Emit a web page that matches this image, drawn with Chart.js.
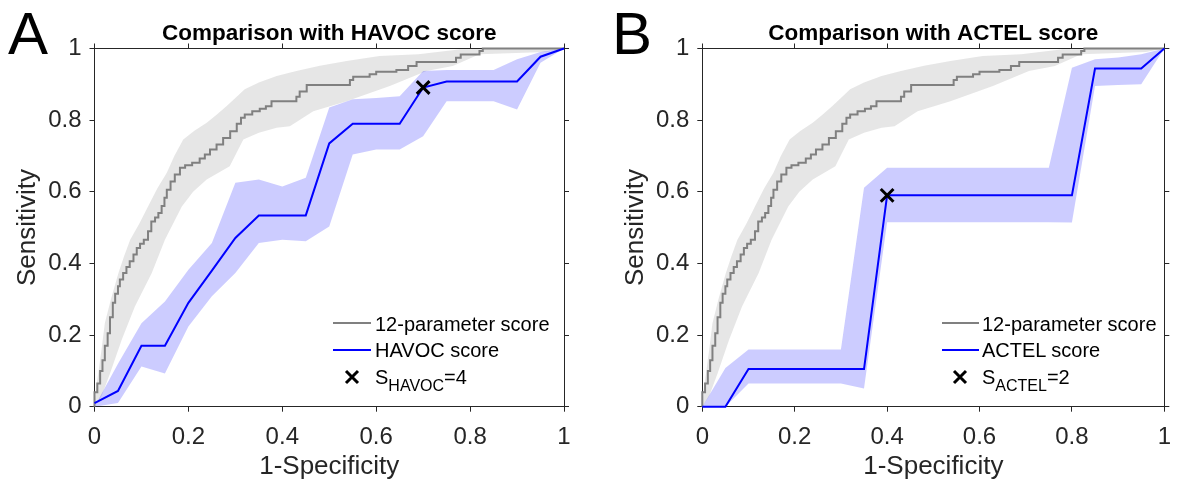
<!DOCTYPE html>
<html><head><meta charset="utf-8">
<script src="https://cdn.jsdelivr.net/npm/chart.js@4.4.1/dist/chart.umd.min.js"></script>
<style>
html,body{margin:0;padding:0;background:#fff;overflow:hidden}
body{width:1182px;height:489px;position:relative;font-family:"Liberation Sans",Arial,sans-serif}
canvas{position:absolute;top:0}
#cA{left:0}
#cB{left:600px}
.lbl{position:absolute;font-size:60px;line-height:60px;color:#000}
.lg{position:absolute;font-size:20px;line-height:20px;color:#000;white-space:nowrap}
.ln{position:absolute;height:2px}
.sub{font-size:16px;position:relative;top:7px}
.xm{position:absolute;width:16px;height:16px}
</style></head><body>
<canvas id="cA" width="600" height="489"></canvas>
<canvas id="cB" width="582" height="489"></canvas>
<div class="lbl" style="left:8px;top:4px">A</div>
<div class="lbl" style="left:612px;top:4px">B</div>

<div class="ln" style="left:333px;top:322px;width:38px;background:#808080"></div>
<div class="lg" style="left:375px;top:314px">12-parameter score</div>
<div class="ln" style="left:333px;top:349px;width:38px;background:#0000ff"></div>
<div class="lg" style="left:375px;top:340px">HAVOC score</div>
<svg class="xm" style="left:344px;top:369px" viewBox="0 0 16 16"><path d="M2 2L14 14M14 2L2 14" stroke="#000" stroke-width="3"/></svg>
<div class="lg" style="left:375px;top:367px">S<span class="sub">HAVOC</span>=4</div>

<div class="ln" style="left:942px;top:322px;width:37px;background:#808080"></div>
<div class="lg" style="left:982px;top:314px">12-parameter score</div>
<div class="ln" style="left:942px;top:349px;width:37px;background:#0000ff"></div>
<div class="lg" style="left:982px;top:340px">ACTEL score</div>
<svg class="xm" style="left:952px;top:369px" viewBox="0 0 16 16"><path d="M2 2L14 14M14 2L2 14" stroke="#000" stroke-width="3"/></svg>
<div class="lg" style="left:982px;top:367px">S<span class="sub">ACTEL</span>=2</div>

<script>
// ---- data ----
const tickValues = [0, 0.2, 0.4, 0.6, 0.8, 1];
const tickLabels = ['0', '0.2', '0.4', '0.6', '0.8', '1'];

// 12-parameter score ROC (staircase corners)
const paramFPR = [0,0.006,0.012,0.017,0.022,0.028,0.033,0.039,0.044,0.05,0.054,0.061,0.068,0.075,0.083,0.09,0.097,0.105,0.114,0.121,0.129,0.136,0.143,0.149,0.154,0.162,0.171,0.182,0.193,0.208,0.224,0.235,0.246,0.26,0.274,0.289,0.303,0.312,0.32,0.336,0.352,0.365,0.377,0.391,0.43,0.437,0.452,0.469,0.544,0.551,0.586,0.6,0.643,0.668,0.686,0.77,0.78,0.82,0.827,1];
const paramTPR = [0,0.04,0.065,0.1,0.13,0.17,0.205,0.25,0.29,0.315,0.336,0.355,0.373,0.39,0.406,0.425,0.443,0.455,0.466,0.49,0.517,0.528,0.541,0.56,0.583,0.606,0.629,0.648,0.667,0.674,0.681,0.693,0.704,0.718,0.732,0.75,0.769,0.79,0.807,0.816,0.825,0.832,0.839,0.853,0.853,0.865,0.88,0.898,0.898,0.912,0.921,0.928,0.935,0.94,0.951,0.962,0.974,0.983,0.993,1];
// 12-parameter score confidence band
const paramHiFPR = [0,0.003,0.008,0.015,0.022,0.035,0.051,0.063,0.076,0.095,0.114,0.134,0.154,0.17,0.189,0.212,0.239,0.26,0.281,0.3,0.32,0.35,0.388,0.43,0.48,0.537,0.607,0.69,0.78,1];
const paramHiTPR = [0,0.05,0.093,0.16,0.233,0.3,0.373,0.42,0.466,0.51,0.559,0.61,0.653,0.7,0.746,0.77,0.793,0.815,0.839,0.862,0.886,0.905,0.923,0.937,0.952,0.965,0.979,0.984,0.998,1];
const paramLoFPR = [0,0.015,0.033,0.058,0.086,0.122,0.15,0.186,0.21,0.239,0.288,0.317,0.35,0.388,0.416,0.466,0.537,0.629,0.707,0.763,0.82,0.96,1];
const paramLoTPR = [0,0.03,0.093,0.187,0.28,0.373,0.466,0.559,0.6,0.634,0.671,0.746,0.765,0.779,0.783,0.825,0.853,0.895,0.937,0.951,0.984,0.99,1];

// comparison scores on a common FPR grid
const scoreFPR = [0,0.05,0.1,0.15,0.2,0.25,0.3,0.35,0.4,0.45,0.5,0.55,0.6,0.65,0.7,0.75,0.8,0.85,0.9,0.95,1];
const havocTPR = [0.01,0.044,0.17,0.17,0.29,0.38,0.471,0.534,0.534,0.534,0.735,0.79,0.79,0.79,0.891,0.908,0.908,0.908,0.908,0.977,1];
const havocHi  = [0,0.12,0.233,0.294,0.382,0.457,0.625,0.634,0.615,0.639,0.835,0.858,0.862,0.867,0.937,0.94,0.94,0.94,0.97,0.99,1];
const havocLo  = [0,0.01,0.112,0.093,0.224,0.308,0.373,0.457,0.466,0.462,0.503,0.704,0.718,0.718,0.755,0.853,0.853,0.853,0.83,0.96,1];
const actelTPR = [0,0,0.105,0.105,0.105,0.105,0.105,0.105,0.59,0.59,0.59,0.59,0.59,0.59,0.59,0.59,0.59,0.944,0.944,0.944,1];
const actelHi  = [0,0.108,0.16,0.16,0.16,0.16,0.16,0.611,0.667,0.667,0.667,0.667,0.667,0.667,0.667,0.667,0.946,0.97,0.975,0.984,1];
const actelLo  = [0,0,0.065,0.065,0.065,0.065,0.065,0.051,0.515,0.515,0.515,0.515,0.515,0.515,0.515,0.515,0.514,0.895,0.898,0.9,1];

// cut-off points
const havocCutFPR = [0.7], havocCutTPR = [0.891];
const actelCutFPR = [0.4], actelCutTPR = [0.59];

// ---- chart ----
Chart.defaults.font.family = '"Liberation Sans", Arial, sans-serif';
const pts = (xs, ys) => xs.map((x, i) => ({x: x, y: ys[i]}));
const AX = '#262626';

function axis(pos, opts) {
  const horiz = pos === 'top' || pos === 'bottom';
  const a = {
    type: 'linear', position: pos, min: 0, max: 1,
    afterBuildTicks: s => { s.ticks = tickValues.map(v => ({value: v})); },
    grid: {drawOnChartArea: false, drawTicks: true, tickLength: 5, color: AX, lineWidth: 1},
    border: {display: true, color: AX, width: 1},
    ticks: {display: false}
  };
  return Object.assign(a, opts);
}

function makeChart(id, c) {
  new Chart(document.getElementById(id), {
    type: 'line',
    data: {datasets: [
      {label: 'band12hi', data: pts(paramHiFPR, paramHiTPR), borderColor: 'rgba(0,0,0,0)', borderWidth: 0, pointRadius: 0, backgroundColor: 'rgba(128,128,128,0.2)', fill: '+1', order: 6},
      {label: 'band12lo', data: pts(paramLoFPR, paramLoTPR), borderColor: 'rgba(0,0,0,0)', borderWidth: 0, pointRadius: 0, fill: false, order: 6},
      {label: 'bandHi', data: pts(scoreFPR, c.hi), borderColor: 'rgba(0,0,0,0)', borderWidth: 0, pointRadius: 0, backgroundColor: 'rgba(0,0,255,0.2)', fill: '+1', order: 5},
      {label: 'bandLo', data: pts(scoreFPR, c.lo), borderColor: 'rgba(0,0,0,0)', borderWidth: 0, pointRadius: 0, fill: false, order: 5},
      {label: '12-parameter score', data: pts(paramFPR, paramTPR), borderColor: '#808080', borderWidth: 2, pointRadius: 0, stepped: 'after', fill: false, order: 3, clip: false},
      {label: c.name, data: pts(scoreFPR, c.tpr), borderColor: '#0000ff', borderWidth: 2, pointRadius: 0, fill: false, order: 2, clip: false},
      {label: c.cutName, data: pts(c.cutX, c.cutY), showLine: false, pointStyle: 'crossRot', pointRadius: 9, pointBorderWidth: 3, borderColor: '#000', backgroundColor: '#000', order: 1, clip: false}
    ]},
    options: {
      responsive: false, animation: false, devicePixelRatio: 1,
      layout: {padding: {left: 0, right: c.padR, top: 0, bottom: 0}},
      plugins: {
        legend: {display: false}, tooltip: {enabled: false},
        title: {display: true, text: c.title, fullSize: false, color: '#000',
          font: {size: 22.5, weight: 'bold', lineHeight: 1}, padding: {top: 23, bottom: 3}}
      },
      scales: {
        x: axis('bottom', {
          ticks: {display: true, callback: (v, i) => tickLabels[i], font: {size: 24}, color: AX, padding: 11, maxRotation: 0, autoSkip: false},
          title: {display: true, text: '1-Specificity', color: AX, font: {size: 26}, padding: {top: 0, bottom: 6.4}},
          afterFit: s => { s.height = 82.3; }
        }),
        x2: axis('top', {afterFit: s => { s.height = 0; }}),
        y: axis('left', {
          ticks: {display: true, callback: (v, i) => tickLabels[i], font: {size: 24}, color: AX, padding: 8, autoSkip: false},
          title: {display: true, text: 'Sensitivity', color: AX, font: {size: 26}, padding: {top: c.yw - 66.5 - 15.6, bottom: 0}},
          afterFit: s => { s.width = c.yw; }
        }),
        y2: axis('right', {afterFit: s => { s.width = 0; }})
      }
    }
  });
}

makeChart('cA', {title: 'Comparison with HAVOC score', name: 'HAVOC score', cutName: 'S_HAVOC=4',
  tpr: havocTPR, hi: havocHi, lo: havocLo, cutX: havocCutFPR, cutY: havocCutTPR, yw: 94.5, padR: 36});
makeChart('cB', {title: 'Comparison with ACTEL score', name: 'ACTEL score', cutName: 'S_ACTEL=2',
  tpr: actelTPR, hi: actelHi, lo: actelLo, cutX: actelCutFPR, cutY: actelCutTPR, yw: 102.3, padR: 10.7});
</script>
</body></html>
